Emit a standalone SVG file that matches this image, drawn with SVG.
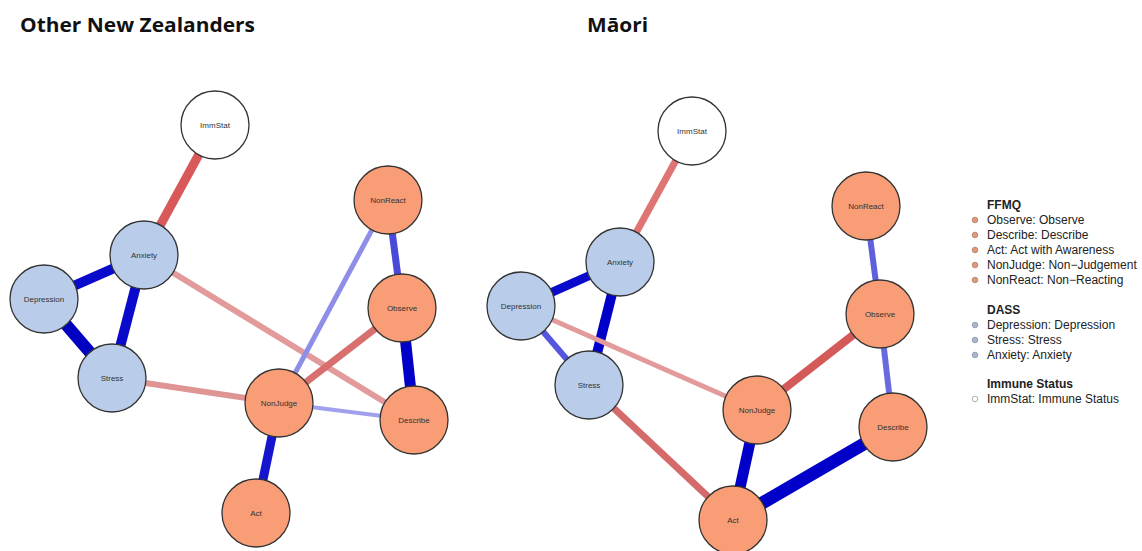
<svg xmlns="http://www.w3.org/2000/svg" width="1142" height="551" viewBox="0 0 1142 551">
<style>
.title{font-family:"Open Sans","Liberation Sans",sans-serif;font-weight:bold;font-size:20px;fill:#111}
.ffmq circle{fill:#f99d76;stroke:#333;stroke-width:1.3}
.dass circle{fill:#b9cdea;stroke:#333;stroke-width:1.3}
.imm circle{fill:#ffffff;stroke:#333;stroke-width:1.3}
.node text{font-family:"Liberation Sans",Arial,sans-serif;font-size:8px;fill:#333;text-anchor:middle;dominant-baseline:central}
.edges line{stroke-linecap:butt}
.leg{font-family:"Liberation Sans",Arial,sans-serif;font-size:12px;fill:#222}
.legh{font-family:"Liberation Sans",Arial,sans-serif;font-size:12px;font-weight:bold;fill:#222}
.dot-f{fill:#dd9a7c;stroke:#b07a64;stroke-width:0.8}
.dot-d{fill:#aab7cc;stroke:#8593a8;stroke-width:0.8}
.dot-i{fill:#fff;stroke:#999;stroke-width:0.8}
</style>
<rect width="1142" height="551" fill="#ffffff"/>
<text class="title" x="20" y="32" textLength="235" lengthAdjust="spacingAndGlyphs">Other New Zealanders</text>
<text class="title" x="587" y="32" textLength="61" lengthAdjust="spacingAndGlyphs">Māori</text>

<g id="connectors-left" class="edges">
<line x1="215" y1="125" x2="144" y2="255" stroke="#d9585a" stroke-width="9"/>
<line x1="144" y1="255" x2="44" y2="299" stroke="#0a0acc" stroke-width="10"/>
<line x1="144" y1="255" x2="112" y2="378" stroke="#0a0acc" stroke-width="10"/>
<line x1="44" y1="299" x2="112" y2="378" stroke="#0000c0" stroke-width="12"/>
<line x1="144" y1="255" x2="414" y2="420" stroke="#e39a9a" stroke-width="6"/>
<line x1="112" y1="378" x2="279" y2="403" stroke="#e09595" stroke-width="6"/>
<line x1="279" y1="403" x2="388" y2="200" stroke="#8e8ee8" stroke-width="5"/>
<line x1="279" y1="403" x2="402" y2="308" stroke="#d96e6e" stroke-width="7"/>
<line x1="279" y1="403" x2="414" y2="420" stroke="#a0a0ee" stroke-width="4"/>
<line x1="388" y1="200" x2="402" y2="308" stroke="#4a4ad8" stroke-width="7"/>
<line x1="402" y1="308" x2="414" y2="420" stroke="#0000c8" stroke-width="11"/>
<line x1="279" y1="403" x2="256" y2="513" stroke="#1515d0" stroke-width="9"/>
</g>

<g id="connectors-right" class="edges">
<line x1="692" y1="131" x2="620" y2="262" stroke="#de7474" stroke-width="7"/>
<line x1="620" y1="262" x2="521" y2="306" stroke="#0a0acc" stroke-width="9"/>
<line x1="620" y1="262" x2="589" y2="385" stroke="#0000c8" stroke-width="10"/>
<line x1="521" y1="306" x2="589" y2="385" stroke="#5555dd" stroke-width="6"/>
<line x1="521" y1="306" x2="757" y2="410" stroke="#e39a9a" stroke-width="5"/>
<line x1="589" y1="385" x2="733" y2="520" stroke="#d46a6a" stroke-width="7"/>
<line x1="757" y1="410" x2="880" y2="314" stroke="#d45a5a" stroke-width="8"/>
<line x1="757" y1="410" x2="733" y2="520" stroke="#0000c8" stroke-width="11"/>
<line x1="733" y1="520" x2="893" y2="427" stroke="#0000c8" stroke-width="13"/>
<line x1="866" y1="206" x2="880" y2="314" stroke="#6060dd" stroke-width="6"/>
<line x1="880" y1="314" x2="893" y2="427" stroke="#6a6ae0" stroke-width="6"/>
</g>

<g id="L-ImmStat" class="node imm"><circle cx="215" cy="125" r="34"/><text x="215" y="125">ImmStat</text></g>
<g id="L-Anxiety" class="node dass"><circle cx="144" cy="255" r="34"/><text x="144" y="255">Anxiety</text></g>
<g id="L-Depression" class="node dass"><circle cx="44" cy="299" r="34"/><text x="44" y="299">Depression</text></g>
<g id="L-Stress" class="node dass"><circle cx="112" cy="378" r="34"/><text x="112" y="378">Stress</text></g>
<g id="L-NonJudge" class="node ffmq"><circle cx="279" cy="403" r="34"/><text x="279" y="403">NonJudge</text></g>
<g id="L-Act" class="node ffmq"><circle cx="256" cy="513" r="34"/><text x="256" y="513">Act</text></g>
<g id="L-Describe" class="node ffmq"><circle cx="414" cy="420" r="34"/><text x="414" y="420">Describe</text></g>
<g id="L-Observe" class="node ffmq"><circle cx="402" cy="308" r="34"/><text x="402" y="308">Observe</text></g>
<g id="L-NonReact" class="node ffmq"><circle cx="388" cy="200" r="34"/><text x="388" y="200">NonReact</text></g>

<g id="R-ImmStat" class="node imm"><circle cx="692" cy="131" r="34"/><text x="692" y="131">ImmStat</text></g>
<g id="R-Anxiety" class="node dass"><circle cx="620" cy="262" r="34"/><text x="620" y="262">Anxiety</text></g>
<g id="R-Depression" class="node dass"><circle cx="521" cy="306" r="34"/><text x="521" y="306">Depression</text></g>
<g id="R-Stress" class="node dass"><circle cx="589" cy="385" r="34"/><text x="589" y="385">Stress</text></g>
<g id="R-NonJudge" class="node ffmq"><circle cx="757" cy="410" r="34"/><text x="757" y="410">NonJudge</text></g>
<g id="R-Act" class="node ffmq"><circle cx="733" cy="520" r="34"/><text x="733" y="520">Act</text></g>
<g id="R-Describe" class="node ffmq"><circle cx="893" cy="427" r="34"/><text x="893" y="427">Describe</text></g>
<g id="R-Observe" class="node ffmq"><circle cx="880" cy="314" r="34"/><text x="880" y="314">Observe</text></g>
<g id="R-NonReact" class="node ffmq"><circle cx="866" cy="206" r="34"/><text x="866" y="206">NonReact</text></g>

<g id="legend">
<text class="legh" x="987" y="209">FFMQ</text>
<circle class="dot-f" cx="975" cy="220" r="2.8"/><text class="leg" x="987" y="224">Observe: Observe</text>
<circle class="dot-f" cx="975" cy="235" r="2.8"/><text class="leg" x="987" y="239">Describe: Describe</text>
<circle class="dot-f" cx="975" cy="250" r="2.8"/><text class="leg" x="987" y="254">Act: Act with Awareness</text>
<circle class="dot-f" cx="975" cy="265" r="2.8"/><text class="leg" x="987" y="269">NonJudge: Non−Judgement</text>
<circle class="dot-f" cx="975" cy="280" r="2.8"/><text class="leg" x="987" y="284">NonReact: Non−Reacting</text>
<text class="legh" x="987" y="314">DASS</text>
<circle class="dot-d" cx="975" cy="325" r="2.8"/><text class="leg" x="987" y="329">Depression: Depression</text>
<circle class="dot-d" cx="975" cy="340" r="2.8"/><text class="leg" x="987" y="344">Stress: Stress</text>
<circle class="dot-d" cx="975" cy="355" r="2.8"/><text class="leg" x="987" y="359">Anxiety: Anxiety</text>
<text class="legh" x="987" y="388">Immune Status</text>
<circle class="dot-i" cx="975" cy="399" r="2.8"/><text class="leg" x="987" y="403">ImmStat: Immune Status</text>
</g>
</svg>
